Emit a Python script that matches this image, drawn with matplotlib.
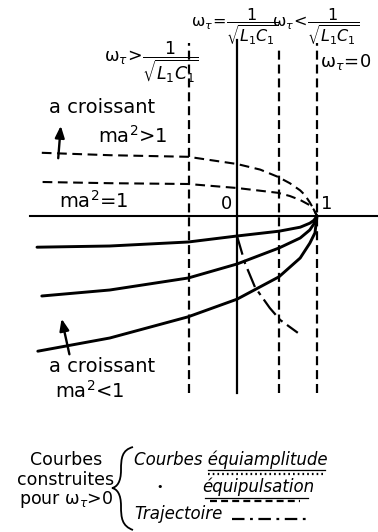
import matplotlib
matplotlib.use("Agg")
import matplotlib.pyplot as plt
from matplotlib.path import Path
from matplotlib.patches import PathPatch

plt.rcParams["font.family"] = ["DejaVu Sans"]
plt.rcParams["mathtext.fontset"] = "dejavusans"
plt.rcParams["lines.scale_dashes"] = False

# Normalised plane: origin "0" at (0, 0), point "1" at (1, 0)
v_lines_u = [-0.6, 0.0, 0.525, 1.0]
v_lines_style = ["dashed", "solid", "dashed", "dashed"]
v_top = [2.16, 2.2, 2.11, 2.16]
v_bottom = -2.21

# Equipulsation curves (dashed), omega_tau > 0
pulse_hi_u = [-2.44, -1.59, -0.61, 0.0, 0.29, 0.51, 0.66, 0.79, 0.85, 0.91, 0.95, 1.0]
pulse_hi_v = [0.79, 0.76, 0.74, 0.65, 0.58, 0.49, 0.41, 0.32, 0.26, 0.17, 0.1, 0.0]
pulse_lo_u = [-2.43, -1.59, -0.61, 0.0, 0.51, 0.66, 0.79, 0.91, 0.96, 1.0]
pulse_lo_v = [0.425, 0.41, 0.40, 0.35, 0.29, 0.25, 0.20, 0.135, 0.08, 0.0]

# Equiamplitude curves (solid)
amp1_u = [-2.5, -1.59, -0.61, 0.0, 0.525, 0.79, 0.91, 0.96, 1.0]
amp1_v = [-0.39, -0.375, -0.325, -0.25, -0.19, -0.14, -0.09, -0.055, 0.0]
amp2_u = [-2.44, -1.59, -0.61, 0.0, 0.525, 0.79, 0.91, 0.96, 1.0]
amp2_v = [-1.0, -0.925, -0.775, -0.6, -0.4, -0.275, -0.175, -0.1, 0.0]
amp3_u = [-2.49, -1.59, -0.61, 0.0, 0.525, 0.79, 0.91, 0.975, 1.0]
amp3_v = [-1.69, -1.525, -1.26, -1.04, -0.76, -0.525, -0.34, -0.21, 0.0]

# Trajectory (dash-dot)
traj_u = [0.0, 0.1, 0.225, 0.41, 0.54, 0.76]
traj_v = [-0.25, -0.59, -0.89, -1.15, -1.3, -1.46]

axis_left = -2.59

W, H = 378, 532
fig = plt.figure(figsize=(W / 100, H / 100), dpi=100)
ax = fig.add_axes([0, 0, 1, 1])
ax.set_xlim(-237 / 80, (W - 237) / 80)
ax.set_ylim((216 - H) / 80, 216 / 80)
ax.axis("off")


def P(x, y):
    return (x - 237) / 80, (216 - y) / 80


k = "black"
ax.plot([axis_left, ax.get_xlim()[1]], [0, 0], color=k, lw=1.5)

for u, st, top in zip(v_lines_u, v_lines_style, v_top):
    if st == "solid":
        ax.plot([u, u], [v_bottom, top], color=k, lw=1.6)
    else:
        ax.plot([u, u], [v_bottom, top], color=k, lw=1.6, dashes=(6.5, 3.5))

for uu, vv in [(pulse_hi_u, pulse_hi_v), (pulse_lo_u, pulse_lo_v)]:
    ax.plot(uu, vv, color=k, lw=1.5, dashes=(7, 4))

for uu, vv in [(amp1_u, amp1_v), (amp2_u, amp2_v), (amp3_u, amp3_v)]:
    ax.plot(uu, vv, color=k, lw=2.1, solid_capstyle="round", solid_joinstyle="round")

ax.plot(traj_u, traj_v, color=k, lw=1.6, dashes=(14, 4, 3, 4))

arr = dict(arrowstyle="-|>,head_length=0.7,head_width=0.28", color=k, lw=1.7)
ax.annotate("", xy=P(61, 123), xytext=P(58, 161), arrowprops=arr)
ax.annotate("", xy=P(61, 316), xytext=P(70, 357), arrowprops=arr)


def T(x, y, s, **kw):
    kw.setdefault("fontsize", 14)
    kw.setdefault("va", "center")
    kw.setdefault("ha", "left")
    ax.text(x / W, 1 - y / H, s, transform=ax.transAxes, **kw)


W_T = r"\mathrm{\omega}_\tau"

T(49, 108, "a croissant")
T(98, 136, r"ma$^2$>1")
T(59, 201, r"ma$^2$=1")
T(49, 367, "a croissant")
T(55, 391, r"ma$^2$<1")
T(226, 204, "0", ha="center", fontsize=13)
T(327, 204, "1", ha="center", fontsize=13)

T(104, 62, rf"${W_T}\!>\!\dfrac{{1}}{{\sqrt{{L_1C_1}}}}$", fontsize=12.5)
T(191, 27, rf"${W_T}\!=\!\dfrac{{1}}{{\sqrt{{L_1C_1}}}}$", fontsize=11.5)
T(272, 27, rf"${W_T}\!<\!\dfrac{{1}}{{\sqrt{{L_1C_1}}}}$", fontsize=11.5)
T(320, 62, rf"${W_T}\!=\!0$", fontsize=13)

T(66, 460, "Courbes", ha="center", fontsize=12.5)
T(66, 480, "construites", ha="center", fontsize=12.5)
T(66, 500, rf"pour ${W_T}$>0", ha="center", fontsize=12.5)

brace = [(133, 447), (122, 450), (121, 458), (121, 470), (121, 482), (117, 487), (112, 488),
         (117, 489), (121, 494), (121, 506), (121, 518), (122, 526), (133, 530)]
codes = [Path.MOVETO] + [Path.CURVE4] * 12
ax.add_patch(PathPatch(Path([P(x, y) for x, y in brace], codes), fill=False, lw=1.3, color=k))

T(134, 460, "Courbes équiamplitude", style="italic", fontsize=12)
ax.plot(*zip(P(208, 470), P(325, 470)), color=k, lw=0.9)
ax.plot(*zip(P(208, 474), P(325, 474)), color=k, lw=1.6, dashes=(1.2, 2.2))
T(160, 487, "•", fontsize=8, ha="center")
T(202, 487, "équipulsation", style="italic", fontsize=12)
ax.plot(*zip(P(205, 498), P(308, 498)), color=k, lw=0.9)
ax.plot(*zip(P(210, 501), P(300, 501)), color=k, lw=1.6, dashes=(5, 3))
T(134, 514, "Trajectoire", style="italic", fontsize=12)
ax.plot(*zip(P(232, 519), P(306, 519)), color=k, lw=1.6, dashes=(9, 4, 2, 4))

fig.savefig("out.png", dpi=100)
